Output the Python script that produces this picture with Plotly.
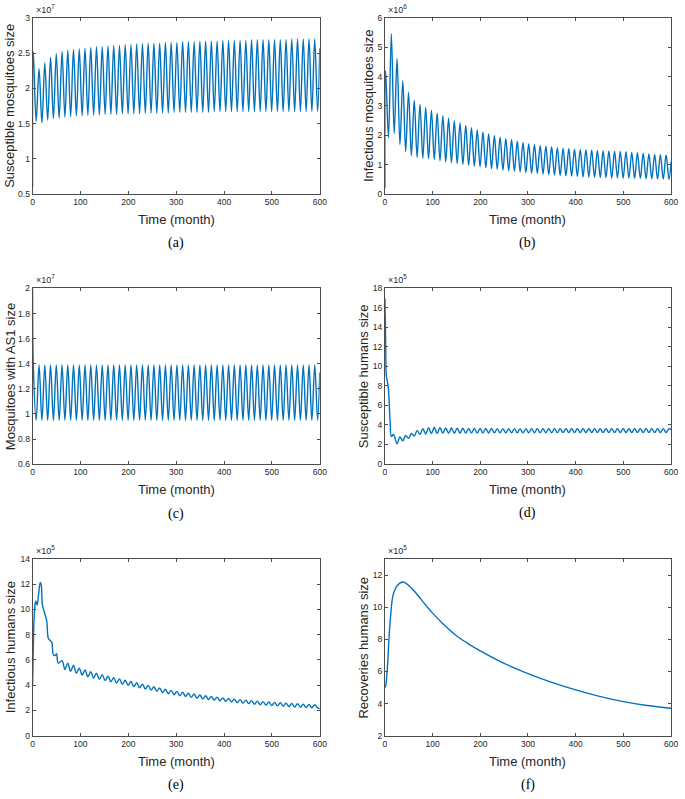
import plotly.graph_objects as go
from plotly.subplots import make_subplots

W, H = 685, 799
CYCLES = 50  # one seasonal cycle every 12 months, 0..600

# (a) Susceptible mosquitoes, x1e7
sm_peaks = [2.52, 2.28, 2.36, 2.44, 2.49, 2.52, 2.54, 2.55, 2.56, 2.57,
            2.58, 2.59, 2.59, 2.60, 2.61, 2.61, 2.62, 2.62, 2.63, 2.63,
            2.64, 2.64, 2.64, 2.65, 2.65, 2.65, 2.66, 2.66, 2.66, 2.67,
            2.67, 2.67, 2.67, 2.68, 2.68, 2.68, 2.68, 2.68, 2.69, 2.69,
            2.69, 2.69, 2.69, 2.69, 2.69, 2.70, 2.70, 2.70, 2.70, 2.70]
sm_troughs = [1.53, 1.51, 1.55, 1.57, 1.58, 1.59, 1.60, 1.61, 1.61, 1.62,
              1.62, 1.62, 1.63, 1.63, 1.63, 1.64, 1.64, 1.64, 1.64, 1.65,
              1.65, 1.65, 1.65, 1.65, 1.66, 1.66, 1.66, 1.66, 1.66, 1.66,
              1.66, 1.67, 1.67, 1.67, 1.67, 1.67, 1.67, 1.67, 1.67, 1.67,
              1.67, 1.67, 1.67, 1.67, 1.67, 1.67, 1.67, 1.67, 1.67, 1.67]

# (b) Infectious mosquitoes, x1e6
im_peaks = [4.20, 5.46, 4.62, 3.86, 3.47, 3.20, 3.05, 2.95, 2.86, 2.75,
            2.67, 2.58, 2.50, 2.42, 2.34, 2.26, 2.18, 2.12, 2.05, 1.99,
            1.94, 1.89, 1.85, 1.80, 1.76, 1.72, 1.69, 1.66, 1.63, 1.61,
            1.58, 1.56, 1.55, 1.53, 1.52, 1.51, 1.50, 1.49, 1.48, 1.47,
            1.46, 1.45, 1.44, 1.42, 1.41, 1.39, 1.37, 1.35, 1.34, 1.33]
im_troughs = [1.92, 2.06, 1.69, 1.45, 1.30, 1.25, 1.22, 1.20, 1.18, 1.13,
              1.10, 1.07, 1.04, 1.01, 0.98, 0.95, 0.93, 0.90, 0.87, 0.85,
              0.82, 0.80, 0.78, 0.76, 0.73, 0.71, 0.70, 0.68, 0.66, 0.65,
              0.63, 0.62, 0.61, 0.60, 0.59, 0.58, 0.57, 0.56, 0.56, 0.55,
              0.55, 0.54, 0.54, 0.53, 0.53, 0.52, 0.52, 0.51, 0.51, 0.50]

# (c) Mosquitoes with AS1, x1e7
as_peaks = [1.39] * CYCLES
as_troughs = [0.95] * CYCLES

# (d) Susceptible humans, x1e5
sh_lead_months = [0, 1, 2, 3, 5, 7, 9, 11, 13.5, 18]
sh_lead_values = [17.0, 14.5, 11.0, 9.0, 8.5, 7.9, 6.2, 4.3, 2.8, 3.0]
sh_lows = [2.05, 2.35, 2.60, 2.85, 3.00, 3.05, 3.10, 3.10, 3.12, 3.12,
           3.13, 3.13, 3.14, 3.14, 3.15, 3.15, 3.15, 3.16, 3.16, 3.16,
           3.17, 3.17, 3.17, 3.17, 3.18, 3.18, 3.18, 3.18, 3.18, 3.19,
           3.19, 3.19, 3.19, 3.19, 3.19, 3.20, 3.20, 3.20, 3.20, 3.20,
           3.20, 3.20, 3.20, 3.20, 3.20, 3.20, 3.20, 3.20]
sh_highs = [2.75, 2.90, 3.10, 3.40, 3.60, 3.70, 3.72, 3.70, 3.68, 3.66,
            3.65, 3.64, 3.63, 3.62, 3.62, 3.61, 3.61, 3.60, 3.60, 3.60,
            3.60, 3.60, 3.60, 3.60, 3.60, 3.60, 3.60, 3.60, 3.60, 3.60,
            3.60, 3.60, 3.60, 3.60, 3.60, 3.60, 3.60, 3.60, 3.60, 3.60,
            3.60, 3.60, 3.60, 3.60, 3.60, 3.60, 3.60, 3.60]

# (e) Infectious humans, x1e5
ih_lead_months = [0, 2, 3.5, 5.5, 7, 9.5, 12.5, 16, 18, 20.5, 23, 26,
                  29.5, 33, 36.5, 40, 43.5, 47, 50, 53.5]
ih_lead_values = [4.0, 8.0, 9.6, 10.5, 10.65, 10.35, 11.2, 12.15, 11.95,
                  10.35, 10.0, 9.6, 9.1, 7.7, 7.55, 7.4, 6.4, 6.35, 6.5, 5.75]
ih_highs = [5.95, 5.75, 5.58, 5.35, 5.22, 5.08, 4.96, 4.84, 4.72, 4.60,
            4.50, 4.40, 4.30, 4.20, 4.09, 3.99, 3.88, 3.78, 3.68, 3.59,
            3.51, 3.44, 3.37, 3.30, 3.23, 3.17, 3.11, 3.06, 3.00, 2.95,
            2.90, 2.86, 2.82, 2.78, 2.74, 2.70, 2.67, 2.64, 2.61, 2.58,
            2.55, 2.53, 2.50, 2.48, 2.46]
ih_lows = [5.25, 5.10, 4.95, 4.80, 4.68, 4.57, 4.47, 4.37, 4.27, 4.17,
           4.08, 3.99, 3.89, 3.80, 3.70, 3.61, 3.51, 3.42, 3.33, 3.25,
           3.17, 3.11, 3.04, 2.98, 2.92, 2.87, 2.82, 2.77, 2.72, 2.67,
           2.62, 2.58, 2.54, 2.50, 2.46, 2.43, 2.40, 2.37, 2.34, 2.31,
           2.28, 2.26, 2.24, 2.22, 2.20]

# (f) Recovered humans, x1e5
rh_months = [0, 2, 4, 6, 8, 10, 12, 15, 18, 22, 26, 30, 35, 40, 45, 50, 60,
             70, 80, 90, 100, 125, 150, 175, 200, 250, 300, 350, 400, 450,
             500, 550, 600]
rh_values = [5.0, 5.15, 5.75, 6.6, 7.75, 8.7, 9.45, 10.4, 10.85, 11.15,
             11.35, 11.47, 11.55, 11.56, 11.47, 11.35, 11.05, 10.7, 10.33,
             9.97, 9.63, 8.87, 8.22, 7.72, 7.28, 6.5, 5.87, 5.32, 4.85,
             4.45, 4.12, 3.88, 3.71]


def seasonal(lead_t, lead_v, first, second, end_v):
    """Join the lead-in with one pair of extremes per 12-month cycle."""
    k0 = CYCLES - len(first)
    t, v = list(lead_t), list(lead_v)
    for i, (p, q) in enumerate(zip(first, second)):
        m = 12 * (k0 + i)
        t += [m + 1.5, m + 7.5]
        v += [p, q]
    t.append(600)
    v.append(end_v)
    return t, v


panels = [
    # t, v, y title, y range, dtick, exponent, label, pixel box (l, r, top, bottom), ytitle x
    (*seasonal([0], [0.6], sm_peaks, sm_troughs, 2.57),
     'Susceptible mosquitoes size', [0.5, 3], 0.5, 7, '(a)', (31, 322, 13, 191.5), 8),
    (*seasonal([0], [0.2], im_peaks, im_troughs, 1.1),
     'Infectious mosquitoes size', [0, 6], 1, 6, '(b)', (388, 678, 13, 191.5), 372),
    (*seasonal([0], [2.0], as_peaks, as_troughs, 1.33),
     'Mosquitoes with AS1 size', [0.6, 2], 0.2, 7, '(c)', (31, 322, 287, 465), 8),
    (*seasonal(sh_lead_months, sh_lead_values, sh_lows, sh_highs, 3.5),
     'Susceptible humans size', [0, 18], 2, 5, '(d)', (388, 678, 287, 464.5), 366),
    (*seasonal(ih_lead_months, ih_lead_values, ih_highs, ih_lows, 2.15),
     'Infectious humans size', [0, 14], 2, 5, '(e)', (31, 322, 561, 740), 8),
    (rh_months, rh_values,
     'Recoveries humans size', [2, 13], 2, 5, '(f)', (388, 678, 561, 740), 366),
]

fig = make_subplots(rows=3, cols=2)
axis_col = '#4d4d4d'
sans = 'Liberation Sans, Arial, sans-serif'
annotations = []

for i, (t, v, ytitle, yrange, dtick, expo, label, box, ytx) in enumerate(panels):
    row, col = i // 2 + 1, i % 2 + 1
    l, r, top, bot = box
    fig.add_trace(go.Scatter(x=t, y=v, mode='lines',
                             line=dict(color='#0072BD', width=1.4,
                                       shape='spline', smoothing=1),
                             showlegend=False, hoverinfo='skip'),
                  row=row, col=col)
    common = dict(showline=True, mirror='ticks', linecolor=axis_col, linewidth=1,
                  ticks='inside', ticklen=3, tickcolor=axis_col, showgrid=False,
                  zeroline=False, tickfont=dict(family=sans, size=8.5, color='#262626'))
    fig.update_xaxes(range=[0, 600], dtick=100, tick0=0,
                     domain=[l / W, r / W], row=row, col=col, **common)
    fig.update_yaxes(range=yrange, dtick=dtick, tick0=0,
                     domain=[1 - bot / H, 1 - top / H], row=row, col=col, **common)
    cx = (l + r) / 2
    annotations += [
        dict(text=ytitle, x=ytx / W, y=1 - (top + bot) / 2 / H, textangle=-90,
             font=dict(family=sans, size=13, color='#262626')),
        dict(text='Time (month)', x=cx / W, y=1 - (bot + 26) / H,
             font=dict(family=sans, size=13, color='#262626')),
        dict(text=label, x=cx / W, y=1 - (bot + 50) / H,
             font=dict(family='Liberation Serif, serif', size=14, color='#000')),
        dict(text='\u00d710<sup>%d</sup>' % expo, x=(l + 1) / W, y=1 - (top - 1) / H,
             xanchor='left', yanchor='bottom',
             font=dict(family=sans, size=9, color='#262626')),
    ]

for a in annotations:
    a.setdefault('xanchor', 'center')
    a.setdefault('yanchor', 'middle')
    a.update(xref='paper', yref='paper', showarrow=False)

fig.update_layout(width=W, height=H, margin=dict(l=0, r=0, t=0, b=0),
                  plot_bgcolor='white', paper_bgcolor='white',
                  annotations=annotations)

# the page's default body margin would push the figure 8px off the window
fig.write_html("out.html", config={'displayModeBar': False},
               post_script="document.body.style.margin='0';"
                           "document.body.style.overflow='hidden';")
